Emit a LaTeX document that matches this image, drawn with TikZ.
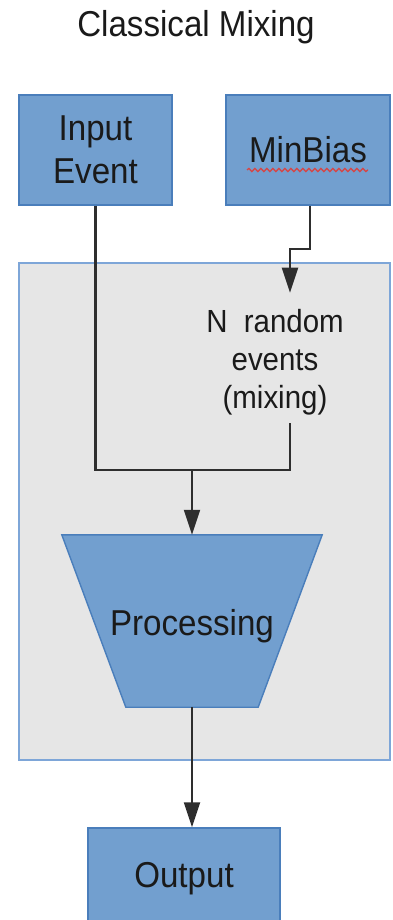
\documentclass[tikz,border=0pt]{standalone}
\usepackage{fontspec}
\setmainfont[FakeStretch=0.92]{Liberation Sans}
\usetikzlibrary{arrows.meta,decorations.pathmorphing}
\definecolor{boxfill}{HTML}{729FCF}
\definecolor{boxline}{HTML}{4A7EBB}
\definecolor{panel}{HTML}{E6E6E6}
\definecolor{panelline}{HTML}{7EA6D8}
\definecolor{ink}{HTML}{1A1A1A}
\definecolor{wire}{HTML}{2E2E2E}
\definecolor{spell}{HTML}{D64545}
\begin{document}
\begin{tikzpicture}[x=1pt,y=-1pt,
  bigfont/.style={font=\fontsize{36}{43}\selectfont},
  bluebox/.style={draw=boxline, fill=boxfill, line width=1.4pt, inner sep=0pt, text=ink, align=center, bigfont},
  lbl/.style={inner sep=0pt, text=ink, align=center},
  wireline/.style={draw=wire, line width=2.2pt},
  arr/.style={wireline, -{Triangle[width=16pt,length=25pt]}},
]
\useasboundingbox (0,0) rectangle (392,920);
\clip (0,0) rectangle (392,920);

% title
\node[lbl, bigfont, anchor=base] (title) at (196,37) {Classical Mixing};

% mixing panel
\node[draw=panelline, fill=panel, line width=1.4pt, minimum width=371pt, minimum height=497pt, inner sep=0pt] (mix) at (204.5,511.5) {};

% input boxes
\node[bluebox, minimum width=153pt, minimum height=110pt] (ie) at (95.5,150) {Input\\Event};
\node[bluebox, minimum width=164pt, minimum height=110pt] (mb) at (308,150) {MinBias};
\draw[spell, line width=1.3pt, decorate, decoration={snake, amplitude=1.6pt, segment length=6pt}]
  ([shift={(-61,20)}]mb.center) -- ([shift={(60,20)}]mb.center);

% N random events
\node[lbl, font=\fontsize{32}{38}\selectfont] (nr) at (275,362) {N~~random\\events\\(mixing)};

% processing trapezoid
\node[minimum width=260pt, minimum height=172pt, inner sep=0pt] (proc) at (192,621) {};
\filldraw[draw=boxline, fill=boxfill, line width=1.4pt]
  (proc.north west) -- (proc.north east) -- ([xshift=-64pt]proc.south east) -- ([xshift=64pt]proc.south west) -- cycle;
\node[lbl, bigfont] (proctxt) at (192,626) {Processing};

% output
\node[bluebox, minimum width=192pt, minimum height=102pt] (out) at (184,879) {Output};

% connectors
\coordinate (nb) at (290,423);
\coordinate (j) at (192,470);
\draw[arr] ([xshift=2pt]mb.south) -- ++(0,43) -- ++(-20,0) -- ++(0,44);
\draw[wireline] (ie.south) |- (nb |- j) -- (nb);
\draw[arr] (j) -- (proc.north);
\draw[arr] (proc.south) -- (proc.south |- out.north);
\end{tikzpicture}
\end{document}
